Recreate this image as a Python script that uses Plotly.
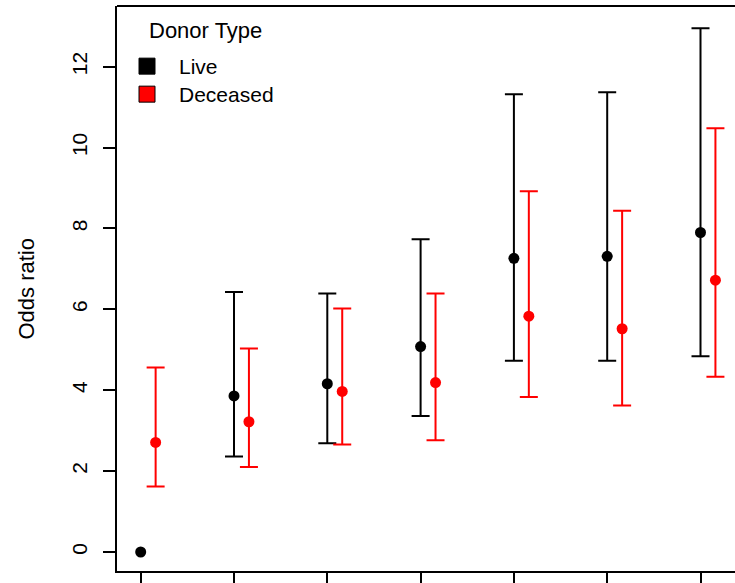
import numpy as np
import plotly.graph_objects as go

# ---- data ----
groups = [1, 2, 3, 4, 5, 6, 7]
live_or = [0.0, 3.86, 4.16, 5.08, 7.26, 7.31, 7.90]
live_lo = [np.nan, 2.36, 2.69, 3.36, 4.73, 4.73, 4.84]
live_hi = [np.nan, 6.43, 6.39, 7.73, 11.32, 11.37, 12.95]
dec_or = [2.71, 3.22, 3.97, 4.19, 5.83, 5.52, 6.72]
dec_lo = [1.62, 2.10, 2.66, 2.76, 3.83, 3.62, 4.33]
dec_hi = [4.56, 5.03, 6.02, 6.39, 8.92, 8.44, 10.48]
y_ticks = [0, 2, 4, 6, 8, 10, 12]
series_names = ["Live", "Deceased"]
legend_title = "Donor Type"
y_title = "Odds ratio"

# ---- style ----
FONT = "Liberation Sans, Arial, sans-serif"
W, H = 735, 583
ML, MR, MT, MB = 117, 0, 6, 12
PLOT_W = W - ML - MR
PLOT_H = H - MT - MB
DEC_OFFSET = 0.16


def px_x(p):
    return (p - ML) / PLOT_W


def px_y(p):
    return 1 - (p - MT) / PLOT_H


def err_plus(mid, hi):
    return np.array(hi, dtype=float) - np.array(mid, dtype=float)


def err_minus(mid, lo):
    return np.array(mid, dtype=float) - np.array(lo, dtype=float)


fig = go.Figure()

fig.add_trace(go.Scatter(
    x=groups, y=live_or, mode="markers", showlegend=False,
    marker=dict(color="black", size=11),
    error_y=dict(type="data", symmetric=False,
                 array=err_plus(live_or, live_hi),
                 arrayminus=err_minus(live_or, live_lo),
                 color="black", thickness=2, width=9),
    hoverinfo="skip"))

fig.add_trace(go.Scatter(
    x=[g + DEC_OFFSET for g in groups], y=dec_or, mode="markers", showlegend=False,
    marker=dict(color="#ff0000", size=11),
    error_y=dict(type="data", symmetric=False,
                 array=err_plus(dec_or, dec_hi),
                 arrayminus=err_minus(dec_or, dec_lo),
                 color="#ff0000", thickness=2, width=9),
    hoverinfo="skip"))

# legend keys (one legend box per row, for exact row spacing)
legend_ids = ["legend", "legend2"]
for name, col, lid in zip(series_names, ["black", "#ff0000"], legend_ids):
    fig.add_trace(go.Scatter(
        x=[None], y=[None], mode="markers", name=name, legend=lid,
        marker=dict(symbol="square", size=16, color=col,
                    line=dict(color="black", width=1))))

legend_common = dict(xanchor="left", yanchor="top",
                     bgcolor="rgba(0,0,0,0)", borderwidth=0,
                     font=dict(size=21), itemwidth=54)

fig.update_layout(
    width=W, height=H,
    margin=dict(l=ML, r=MR, t=MT, b=MB),
    paper_bgcolor="white", plot_bgcolor="white",
    font=dict(family=FONT, size=21, color="black"),
    showlegend=True,
    legend=dict(x=px_x(115), y=px_y(46), **legend_common),
    legend2=dict(x=px_x(115), y=px_y(74), **legend_common),
    xaxis=dict(
        range=[0.746, 0.746 + PLOT_W / 93.3],
        tickvals=groups, showticklabels=False,
        ticks="outside", ticklen=12, tickwidth=2, tickcolor="black",
        showline=True, linecolor="black", linewidth=2,
        showgrid=False, zeroline=False, mirror=False,
    ),
    yaxis=dict(
        range=[-0.47, 13.50],
        tickvals=y_ticks, ticktext=[str(v) for v in y_ticks],
        tickangle=-90, tickfont=dict(size=21),
        ticks="outside", ticklen=12, tickwidth=2, tickcolor="black",
        ticklabelstandoff=8,
        showline=True, linecolor="black", linewidth=2,
        showgrid=False, zeroline=False, mirror=False,
    ),
    shapes=[dict(type="line", xref="paper", yref="paper",
                 x0=0, x1=1, y0=1, y1=1,
                 line=dict(color="black", width=2))],
    annotations=[
        dict(text=y_title, xref="paper", yref="paper",
             x=0, y=0.5, xanchor="center", yanchor="middle",
             xshift=-91, textangle=-90, showarrow=False,
             font=dict(size=22)),
        dict(text=legend_title, xref="paper", yref="paper",
             x=px_x(147), y=px_y(30), xanchor="left", yanchor="middle",
             showarrow=False, font=dict(size=22)),
    ],
)

fig.write_html("out.html", config={"displayModeBar": False},
               post_script="document.body.style.margin='0';document.body.style.overflow='hidden';")
